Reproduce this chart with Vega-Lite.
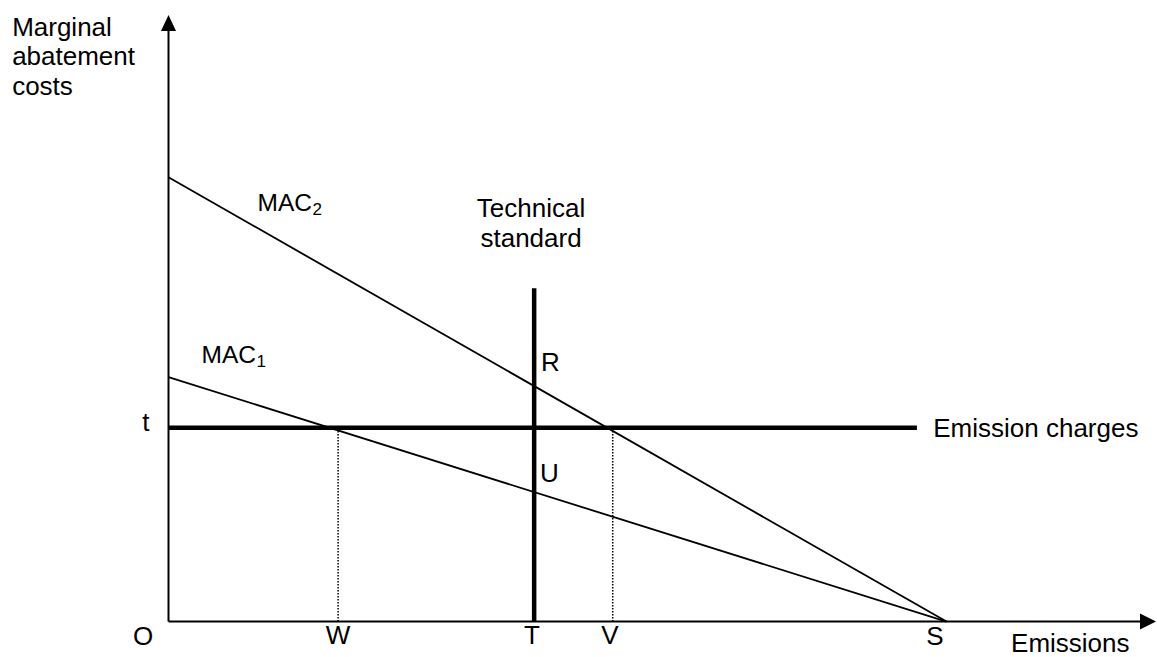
{
  "$schema": "https://vega.github.io/schema/vega-lite/v6.json",
  "width": 1157,
  "height": 657,
  "padding": 0,
  "autosize": {"type": "fit", "contains": "padding"},
  "background": "white",
  "config": {"view": {"stroke": null}, "text": {"font": "Liberation Sans", "color": "black"}},
  "datasets": {
    "segments": [
      {"kind": "axis", "name": "vertical axis", "x": 0, "y": 0, "x2": 0, "y2": 134.7},
      {"kind": "axis", "name": "horizontal axis", "x": 0, "y": 0, "x2": 125.9, "y2": 0},
      {"kind": "curve", "name": "MAC2", "x": 0, "y": 100, "x2": 100, "y2": 0},
      {"kind": "curve", "name": "MAC1", "x": 0, "y": 55, "x2": 100, "y2": 0},
      {"kind": "policy", "name": "Emission charges", "x": 0, "y": 43.6, "x2": 96.2, "y2": 43.6},
      {"kind": "policy", "name": "Technical standard", "x": 47, "y": 0, "x2": 47, "y2": 75},
      {"kind": "guide", "name": "W", "x": 21.8, "y": 0, "x2": 21.8, "y2": 43.6},
      {"kind": "guide", "name": "V", "x": 57.1, "y": 0, "x2": 57.1, "y2": 43.6}
    ],
    "arrows": [
      {"dir": "up", "x": 0, "y": 134.7},
      {"dir": "right", "x": 125.9, "y": 0}
    ],
    "labels": [
      {"align": "left", "label": "Marginal", "x": -20.1, "y": 131.8},
      {"align": "left", "label": "abatement", "x": -20.1, "y": 125.3},
      {"align": "left", "label": "costs", "x": -20.1, "y": 118.5},
      {"align": "center", "label": "O", "x": -3.28, "y": -5.28},
      {"align": "center", "label": "W", "x": 21.8, "y": -5.1},
      {"align": "center", "label": "T", "x": 46.7, "y": -5.1},
      {"align": "center", "label": "V", "x": 56.75, "y": -5.1},
      {"align": "center", "label": "S", "x": 98.5, "y": -5.2},
      {"align": "left", "label": "Emissions", "x": 108.3, "y": -6.85},
      {"align": "center", "label": "t", "x": -2.9, "y": 42.8},
      {"align": "left", "label": "Emission charges", "x": 98.3, "y": 41.6},
      {"align": "center", "label": "Technical", "x": 46.6, "y": 91.1},
      {"align": "center", "label": "standard", "x": 46.6, "y": 84.4},
      {"align": "left", "label": "R", "x": 47.88, "y": 56.3},
      {"align": "left", "label": "U", "x": 47.75, "y": 31.4}
    ],
    "maclabels": [
      {"label": "MAC", "sub": "2", "x": 11.44, "y": 92.5, "subx": 18.5, "suby": 91.6},
      {"label": "MAC", "sub": "1", "x": 4.24, "y": 58.1, "subx": 11.3, "suby": 57.4}
    ]
  },
  "encoding": {
    "x": {"field": "x", "type": "quantitative", "scale": {"domain": [-21.66, 127.06], "nice": false, "zero": false}, "axis": null},
    "y": {"field": "y", "type": "quantitative", "scale": {"domain": [-7.75, 139.89], "nice": false, "zero": false}, "axis": null}
  },
  "layer": [
    {
      "data": {"name": "segments"},
      "transform": [{"filter": "datum.kind === 'guide'"}],
      "mark": {"type": "rule", "color": "black", "strokeWidth": 1.5, "strokeDash": [1.5, 1.5]},
      "encoding": {"x2": {"field": "x2"}, "y2": {"field": "y2"}}
    },
    {
      "data": {"name": "segments"},
      "transform": [{"filter": "datum.kind === 'curve'"}],
      "mark": {"type": "rule", "color": "black", "strokeWidth": 1.8},
      "encoding": {"x2": {"field": "x2"}, "y2": {"field": "y2"}}
    },
    {
      "data": {"name": "segments"},
      "transform": [{"filter": "datum.kind === 'axis'"}],
      "mark": {"type": "rule", "color": "black", "strokeWidth": 2},
      "encoding": {"x2": {"field": "x2"}, "y2": {"field": "y2"}}
    },
    {
      "data": {"name": "segments"},
      "transform": [{"filter": "datum.kind === 'policy'"}],
      "mark": {"type": "rule", "color": "black", "strokeWidth": 4.5},
      "encoding": {"x2": {"field": "x2"}, "y2": {"field": "y2"}}
    },
    {
      "data": {"name": "arrows"},
      "transform": [{"filter": "datum.dir === 'up'"}],
      "mark": {"type": "point", "shape": "M0,-1L0.94,1L-0.94,1Z", "size": 256, "filled": true, "color": "black", "opacity": 1, "strokeWidth": 0}
    },
    {
      "data": {"name": "arrows"},
      "transform": [{"filter": "datum.dir === 'right'"}],
      "mark": {"type": "point", "shape": "M1,0L-1,-1L-1,1Z", "size": 256, "filled": true, "color": "black", "opacity": 1, "strokeWidth": 0}
    },
    {
      "data": {"name": "labels"},
      "transform": [{"filter": "datum.align === 'left'"}],
      "mark": {"type": "text", "align": "left", "baseline": "alphabetic", "fontSize": 26, "font": "Liberation Sans", "color": "black"},
      "encoding": {"text": {"field": "label"}}
    },
    {
      "data": {"name": "labels"},
      "transform": [{"filter": "datum.align === 'center'"}],
      "mark": {"type": "text", "align": "center", "baseline": "alphabetic", "fontSize": 26, "font": "Liberation Sans", "color": "black"},
      "encoding": {"text": {"field": "label"}}
    },
    {
      "data": {"name": "maclabels"},
      "mark": {"type": "text", "align": "left", "baseline": "alphabetic", "fontSize": 24.5, "font": "Liberation Sans", "color": "black"},
      "encoding": {"text": {"field": "label"}}
    },
    {
      "data": {"name": "maclabels"},
      "mark": {"type": "text", "align": "left", "baseline": "alphabetic", "fontSize": 17, "font": "Liberation Sans", "color": "black"},
      "encoding": {
        "x": {"field": "subx", "type": "quantitative"},
        "y": {"field": "suby", "type": "quantitative"},
        "text": {"field": "sub"}
      }
    }
  ]
}
